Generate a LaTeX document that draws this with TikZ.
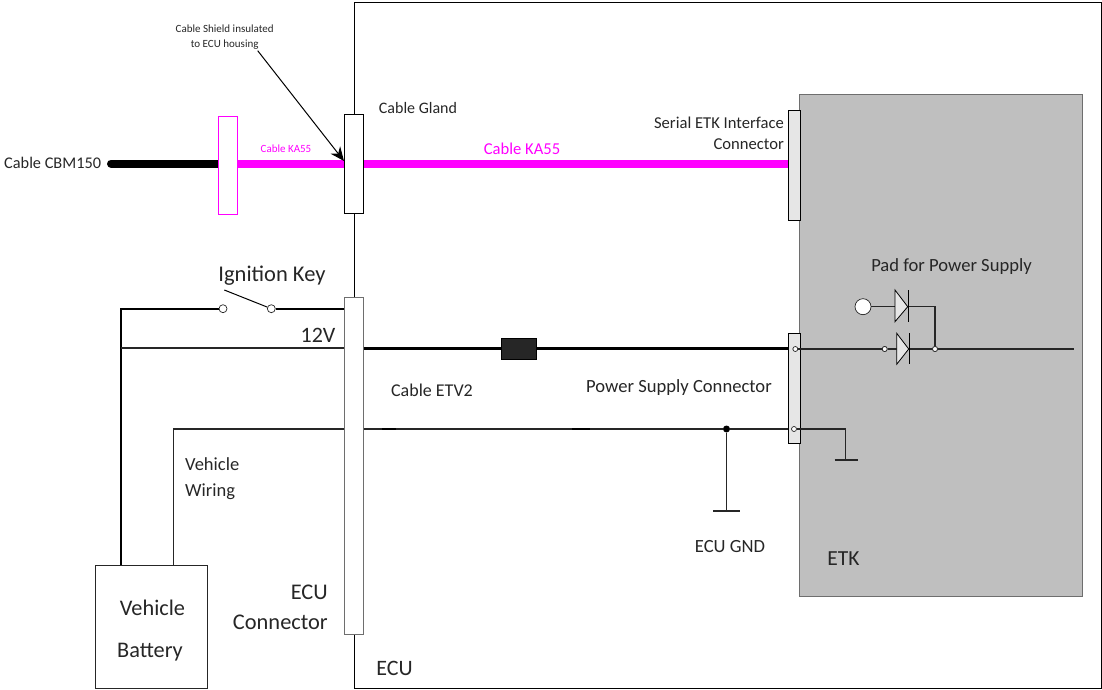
\documentclass[tikz,border=0pt]{standalone}
\usepackage{fontspec}
\setmainfont{Carlito}
\usetikzlibrary{arrows.meta,calc}
\definecolor{mag}{RGB}{255,0,255}
\definecolor{etkgray}{RGB}{191,191,191}
\definecolor{conn}{RGB}{230,230,230}
\definecolor{ln}{RGB}{38,38,38}
\definecolor{edge}{RGB}{110,110,110}
\tikzset{
  x=1pt,y=-1pt,
  lab/.style={inner sep=0pt,align=center,text=ln,font=\fontsize{#1}{#1}\selectfont},
  boxw/.style={draw=black,fill=white,line width=0.8pt,inner sep=0pt,minimum width=#1},
  wire/.style={draw=ln,line width=1.4pt},
  thick wire/.style={draw=black,line width=2.1pt},
  pin/.style={circle,draw=ln,fill=white,line width=0.7pt,inner sep=0pt,minimum size=#1},
  diode/.style={draw=black,fill=conn,line width=0.8pt}
}
\begin{document}
\begin{tikzpicture}
\useasboundingbox (0,0) rectangle (1102,690);
% ECU housing
\node[draw=black,line width=1pt,inner sep=0pt,minimum width=747,minimum height=686,anchor=north west] (ecu) at (354,2) {};
\draw[edge,line width=1pt] (ecu.north east) -- (ecu.south east);
% ETK
\node[draw=edge,fill=etkgray,line width=1.1pt,inner sep=0pt,minimum width=283,minimum height=502,anchor=north west] (etk) at (799,94) {};
% cables
\coordinate (cbmL) at (111,163.500);
\node[draw=mag,fill=white,line width=0.9pt,inner sep=0pt,minimum width=19,minimum height=98,anchor=north west] (ferr) at (218.300,115.700) {};
\node[boxw=19,minimum height=98,anchor=north west] (gland) at (344.300,114.500) {};
\node[draw=black,fill=conn,line width=0.7pt,inner sep=0pt,minimum width=12,minimum height=110,anchor=north west] (serial) at (788,110) {};
\node[boxw=18.500,minimum height=337,fill=white,draw=edge,anchor=north west] (eculconn) at (344.300,296.500) {};
\node[draw=black,fill=conn,line width=0.7pt,inner sep=0pt,minimum width=12,minimum height=110,anchor=north west] (pwr) at (788.300,332.500) {};
\draw[line width=8pt,line cap=round,black] (cbmL) -- (ferr.center |- cbmL);
\draw[line width=8pt,mag] (ferr.east |- cbmL) -- (gland.west |- cbmL);
\draw[line width=8pt,mag] (gland.east |- cbmL) -- (serial.west |- cbmL);
\node[draw=mag,fill=white,line width=0.9pt,inner sep=0pt,minimum width=19,minimum height=98] at (ferr.center) {};
% battery
\node[draw=ln,fill=white,line width=0.9pt,inner sep=0pt,minimum width=112,minimum height=123.500,anchor=north west] (batt) at (95,564.800) {};
\node[lab=22.300] (b1) at (152.500,608) {Vehicle};
\node[lab=22.300] (b2) at (150,652) {Battery};
% ignition
\node[pin=8] (k1) at (223,308.700) {};
\node[pin=8] (k2) at (271.300,308.700) {};
\coordinate (bTop) at (121,308.700);
\coordinate (bMid) at (121,348);
\draw[thick wire] (batt.north -| bTop) -- (bTop) -- (k1);
\draw[thick wire] (k2) -- (eculconn.west |- k2);
\draw[line width=1pt,black] (224.300,290) -- (k2);
\draw[thick wire,draw=ln] (bMid) -- (eculconn.west |- bMid);
% 12V line
\node[draw=black,fill=ln,inner sep=0pt,minimum width=35,minimum height=20.500] (fuse) at (518.500,348.500) {};
\draw[thick wire] (eculconn.east |- fuse) -- (fuse);
\draw[thick wire] (fuse) -- (pwr.west |- fuse);
% gnd line
\coordinate (gL) at (173.500,429);
\draw[wire] (batt.north -| gL) -- (gL) -- (eculconn.west |- gL);
\node[circle,fill=black,inner sep=0pt,minimum size=7] (dot) at (726.500,429) {};
\draw[wire] (eculconn.east |- gL) -- (dot);
\draw[wire] (dot) -- (pwr.west |- gL);
\draw[black,line width=1.6pt] (382,429) -- (396,429);
\draw[black,line width=1.6pt] (572,429) -- (590,429);
\coordinate (g1) at (726.500,511);
\draw[wire] (dot) -- (g1);
\draw[wire] ($(g1)+(-13.500,0)$) -- ($(g1)+(13.500,0)$);
% inside ETK
\node[pin=5] (p1) at (795.300,349) {};
\node[pin=5] (p2) at (794,429) {};
\node[pin=5] (p3) at (884.700,349) {};
\node[pin=5] (p4) at (935,349) {};
\coordinate (rEnd) at (1074,349);
\node[pin=16] (pad) at (863,306.700) {};
\coordinate (c1) at (935,306.700);
\coordinate (g2) at (845.700,429);
\coordinate (g3) at (845.700,460);
\draw[wire] (p1) -- (p3);
\draw[wire] (p3) -- (p4);
\draw[wire] (p4) -- (rEnd);
\draw[wire] (pad) -- (c1) -- (p4);
\draw[wire] (p2) -- (g2) -- (g3);
\draw[wire] ($(g3)+(-11,0)$) -- ($(g3)+(12.500,0)$);
\draw[diode] (895,290) -- (907.700,306.700) -- (895,321.700) -- cycle;
\draw[line width=1pt,black] (908,290) -- (908,322);
\draw[diode] (896.700,333.300) -- (908.700,349) -- (896.700,364.300) -- cycle;
\draw[line width=1pt,black] (909,333.300) -- (909,364.300);
\node[pin=5] at (884.700,349) {};
\node[pin=5] at (935,349) {};
% callout
\node[lab=11] (shield) at (224.700,37.500) {Cable Shield insulated\\[4pt]to ECU housing};
\coordinate (st) at (257.700,50.700);
\coordinate (tip) at (344,161);
\draw[line width=1pt,black,-{Stealth[length=14pt,width=12pt]}] (st) -- (tip);
% labels
\node[lab=16.300,anchor=west] (t1) at (4,163) {Cable CBM150};
\node[lab=11,text=mag] (t2) at (286,149) {Cable KA55};
\node[lab=16.600,text=mag] (t3) at (522,149) {Cable KA55};
\node[lab=16] (t4) at (418,108) {Cable Gland};
\node[lab=16.600,align=right,anchor=east] (t5) at (784,133.500) {Serial ETK Interface\\[4.400pt]Connector};
\node[lab=22.500] (t6) at (272,276) {Ignition Key};
\node[lab=22] (t7) at (318,335) {12V};
\node[lab=18] (t8) at (432,390) {Cable ETV2};
\node[lab=18.600] (t9) at (679,388) {Power Supply Connector};
\node[lab=18.600] (t10) at (951.500,267) {Pad for Power Supply};
\node[lab=18.500,align=left,anchor=west] (t11) at (185,479) {Vehicle\\[7.500pt]Wiring};
\node[lab=18.600] (t12) at (730,547) {ECU GND};
\node[lab=21.500] (t13) at (843.500,559) {ETK};
\node[lab=22.400,align=right,anchor=east] (t14) at (328,607) {ECU\\[7.600pt]Connector};
\node[lab=22] (t15) at (394.500,668) {ECU};
\end{tikzpicture}
\end{document}
